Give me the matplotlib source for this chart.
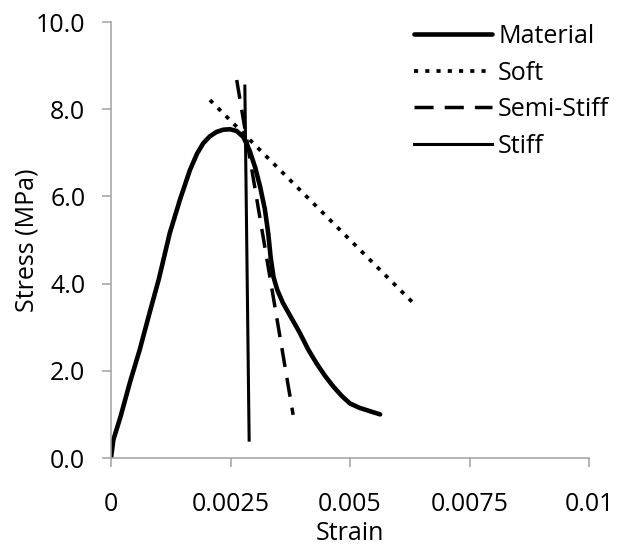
import numpy as np
import matplotlib
matplotlib.use('Agg')
import matplotlib.pyplot as plt

plt.rcParams['font.family'] = ['Open Sans', 'DejaVu Sans']

# Material stress-strain curve (strain, MPa)
material_strain = [0.0, 0.00005, 0.0002, 0.0004, 0.0006, 0.0008, 0.0010, 0.00123, 0.00145,
                   0.00165, 0.0018, 0.00193, 0.00207, 0.00221, 0.00235, 0.00249, 0.00263,
                   0.00277, 0.0029, 0.00302, 0.00312, 0.00322, 0.00329, 0.00334, 0.00340,
                   0.00348, 0.0036, 0.00378, 0.00395, 0.00412, 0.0043, 0.00448, 0.00465,
                   0.00483, 0.005, 0.0052, 0.0054, 0.00563]
material_stress = [0.0, 0.42, 0.95, 1.75, 2.48, 3.3, 4.1, 5.16, 5.95,
                   6.6, 6.98, 7.22, 7.38, 7.48, 7.53, 7.54, 7.5,
                   7.36, 7.05, 6.65, 6.22, 5.7, 5.15, 4.6, 4.15,
                   3.85, 3.55, 3.2, 2.87, 2.5, 2.17, 1.88, 1.64,
                   1.42, 1.25, 1.15, 1.08, 1.0]

# fitted softening lines
soft_strain = [0.00207, 0.0064]
soft_stress = [8.21, 3.47]
semi_strain = [0.00263, 0.00381]
semi_stress = [8.67, 0.99]
stiff_strain = [0.0028, 0.00289]
stiff_stress = [8.53, 0.41]

xticks = [0, 0.0025, 0.005, 0.0075, 0.01]
xtick_labels = ['0', '0.0025', '0.005', '0.0075', '0.01']
yticks = [0, 2, 4, 6, 8, 10]
ytick_labels = ['0.0', '2.0', '4.0', '6.0', '8.0', '10.0']

fig = plt.figure(figsize=(6.26, 5.52), dpi=100)
ax = fig.add_axes([111 / 626, 1 - 458 / 552, 478 / 626, 436 / 552])

ax.plot(material_strain, material_stress, color='black', lw=3.3,
        solid_joinstyle='round', solid_capstyle='round', label='Material')
ax.plot(soft_strain, soft_stress, color='black', lw=2.7,
        linestyle=(0, (1.1, 1.9)), label='Soft')
ax.plot(semi_strain, semi_stress, color='black', lw=2.5,
        linestyle=(0, (5.5, 3.2)), label='Semi-Stiff')
ax.plot(stiff_strain, stiff_stress, color='black', lw=2.2, label='Stiff')

ax.set_xlim(0, 0.01)
ax.set_ylim(0, 10)
ax.set_xticks(xticks)
ax.set_xticklabels(xtick_labels)
ax.set_yticks(yticks)
ax.set_yticklabels(ytick_labels)

for s in ['top', 'right']:
    ax.spines[s].set_visible(False)
for s in ['left', 'bottom']:
    ax.spines[s].set_color('#a0a0a0')
    ax.spines[s].set_linewidth(1.1)

ax.tick_params(axis='both', colors='#a0a0a0', length=6.5, width=1.1,
               labelcolor='black', labelsize=18)
ax.tick_params(axis='x', pad=18)
ax.tick_params(axis='y', pad=12)

ax.set_xlabel('Strain', fontsize=18, labelpad=3)
ax.set_ylabel('Stress (MPa)', fontsize=18, labelpad=-3)

leg = ax.legend(loc='upper left', bbox_to_anchor=(0.614, 1.018), frameon=False,
                fontsize=18, handlelength=3.1, handletextpad=0.25,
                labelspacing=0.46, borderaxespad=0)

fig.savefig('out.png', dpi=100)
